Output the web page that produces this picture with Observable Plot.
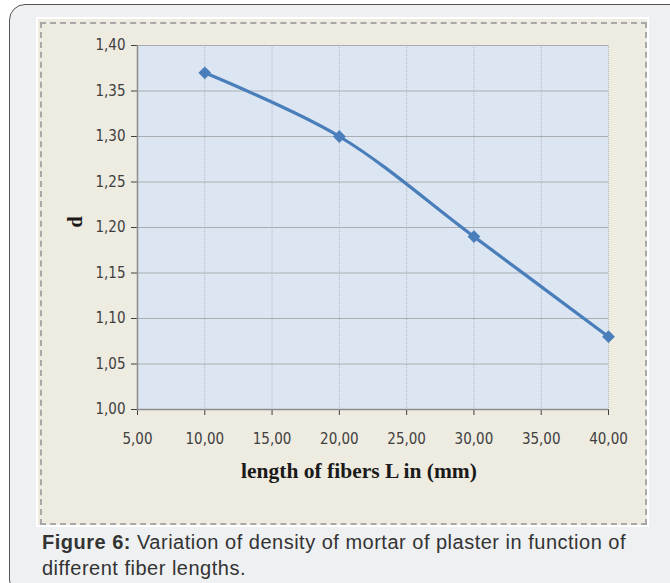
<!DOCTYPE html>
<html>
<head>
<meta charset="utf-8">
<script src="https://cdn.jsdelivr.net/npm/d3@7"></script>
<script src="https://cdn.jsdelivr.net/npm/@observablehq/plot@0.6"></script>
<style>
  html, body { margin: 0; padding: 0; background: #ffffff; width: 670px; height: 583px; overflow: hidden; }
  #outer { position: absolute; left: 9px; top: 4px; width: 680px; height: 590px; border: 1px solid #555; border-radius: 16px; background: #eff0f2; }
  #panel { position: absolute; left: 36px; top: 17px; width: 613px; height: 510px; background: #ffffff; }
  #beige { position: absolute; left: 38px; top: 19px; width: 609px; height: 506px; background: #eeebe0; }
  #dash { position: absolute; left: 40px; top: 22px; width: 603px; height: 499px; border: 2px dashed #a8a8a8; box-sizing: content-box; }
  #chart { position: absolute; left: 38px; top: 19px; }
  #caption { position: absolute; left: 42px; top: 529px; width: 620px; font-family: "Liberation Sans", Arial, sans-serif; font-size: 20px; letter-spacing: 0.5px; line-height: 26px; color: #333; }
  #caption div { white-space: nowrap; }
  #caption b { font-weight: bold; }
</style>
</head>
<body>
<div id="outer"></div>
<div id="panel"></div>
<div id="beige"></div>
<div id="dash"></div>
<div id="chart"></div>
<div id="caption">
  <div><b>Figure 6:</b> <span>Variation of density of mortar of plaster in function of</span></div>
  <div><span>different fiber lengths.</span></div>
</div>
<script>
const fiberLength = [10, 20, 30, 40];
const density = [1.37, 1.30, 1.19, 1.08];
const xTicks = [5, 10, 15, 20, 25, 30, 35, 40];
const yTicks = [1.00, 1.05, 1.10, 1.15, 1.20, 1.25, 1.30, 1.35, 1.40];
const xLabel = "length of fibers L in (mm)";
const yLabel = "d";

const data = fiberLength.map((x, i) => ({x, y: density[i]}));
const fmt = d => d.toFixed(2).replace(".", ",");
const tickFont = "'Liberation Sans Narrow', 'DejaVu Sans Condensed', sans-serif";

const chart = Plot.plot({
  width: 609,
  height: 506,
  marginLeft: 99,
  marginTop: 26,
  marginRight: 39,
  marginBottom: 116,
  style: { background: "transparent", fontFamily: tickFont, fontSize: "15px", color: "#404040" },
  x: { domain: [5, 40], ticks: xTicks, tickFormat: fmt, tickSize: 6, tickPadding: 18, label: null },
  y: { domain: [1.0, 1.4], ticks: yTicks, tickFormat: fmt, tickSize: 6, tickPadding: 6, label: null },
  marks: [
    Plot.frame({ fill: "#dce6f2", stroke: null }),
    Plot.ruleX(xTicks.slice(1), { stroke: "#b4b8bd", strokeWidth: 1, strokeDasharray: "1,1" }),
    Plot.ruleY(yTicks.slice(1), { stroke: "#a9adb2", strokeWidth: 1.2 }),
    Plot.ruleY([1.0], { stroke: "#8c8c8c", strokeWidth: 1.5 }),
    Plot.ruleX([5], { stroke: "#8c8c8c", strokeWidth: 1.5 }),
    Plot.line(data, { x: "x", y: "y", curve: "catmull-rom", stroke: "#4a7ebb", strokeWidth: 3.2 }),
    Plot.dot(data, { x: "x", y: "y", symbol: "diamond2", r: 4.8, fill: "#4a7ebb", stroke: "#4a7ebb" }),
    Plot.text([xLabel], { frameAnchor: "bottom", dx: -14, dy: 68, text: d => d, fontFamily: "'Liberation Serif', 'Times New Roman', serif", fontWeight: "bold", fontSize: 21.5, fill: "#1a1a1a" }),
    Plot.text([yLabel], { frameAnchor: "left", dx: -62, rotate: -90, text: d => d, fontFamily: "'Liberation Serif', 'Times New Roman', serif", fontWeight: "bold", fontSize: 20, fill: "#1a1a1a" })
  ]
});
document.getElementById("chart").appendChild(chart);
</script>
</body>
</html>
